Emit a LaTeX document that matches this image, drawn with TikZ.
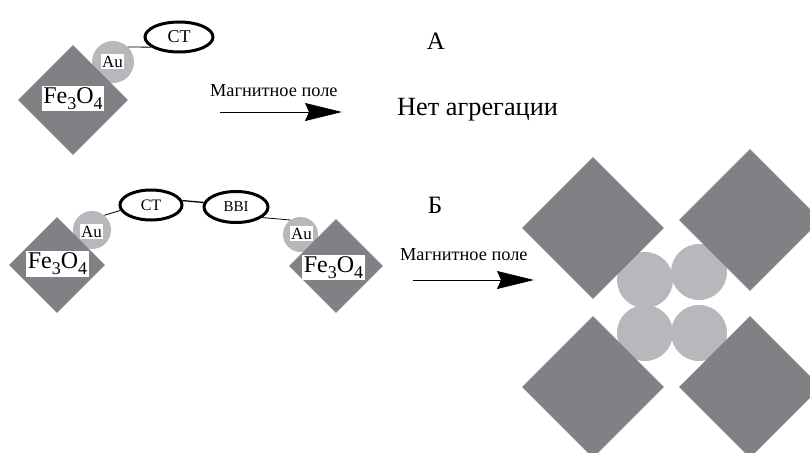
\documentclass[tikz,border=0pt]{standalone}
\usepackage{fontspec}
\setmainfont{Liberation Serif}
\usetikzlibrary{shapes.geometric,arrows.meta}
\definecolor{fecol}{RGB}{128,129,133}
\definecolor{aucol}{RGB}{183,184,188}
\newcommand{\fesub}[1]{\raisebox{-6pt}{\fontsize{18}{18}\selectfont #1}}
\newcommand{\feox}{Fe\fesub{3}O\fesub{4}}
\begin{document}
\begin{tikzpicture}[x=1pt,y=-1pt,
  fediamond/.style={diamond,aspect=1,fill=fecol,draw=none,inner sep=0pt,minimum width=#1,minimum height=#1},
  aucircle/.style={circle,fill=aucol,draw=none,inner sep=0pt,minimum size=#1},
  felabel/.style={fill=white,inner xsep=1.5pt,inner ysep=1.5pt,font=\fontsize{24}{24}\selectfont},
  aulabel/.style={fill=white,inner xsep=1pt,inner ysep=1.5pt,font=\fontsize{17}{17}\selectfont},
  molecule/.style={ellipse,draw=black,line width=3pt,fill=white,inner sep=0pt,minimum height=30pt},
  link/.style={line width=0.8pt},
  field/.style={line width=1pt,-{Stealth[length=37pt,width=18pt,inset=4pt]}},
  fieldtext/.style={anchor=base west,inner sep=0pt,font=\fontsize{18.3}{18.3}\selectfont},
  bigtext/.style={anchor=base,inner sep=0pt,font=\fontsize{25}{25}\selectfont},
]
\useasboundingbox (0,0) rectangle (810,452);
\clip (0,0) rectangle (810,452);
\fill[white] (0,0) rectangle (810,452);

% ---------- A ----------
\node[aucircle=42pt] (au1) at (113,62) {};
\node[fediamond=110pt] (fe1) at (73,100) {};
\node[felabel] (fe1t) at (73,98.5) {\feox};
\node[aulabel] (au1t) at (112.5,61.5) {Au};
\node[molecule,minimum width=68pt,font=\fontsize{18}{18}\selectfont] (ct1) at (179,37) {CT};
\draw[link] (au1.45) -- (ct1.200);

\node[bigtext] (labA) at (436,49) {А};
\node[fieldtext] (mf1) at (210,96) {Магнитное поле};
\coordinate (a1s) at (220,112);
\coordinate (a1e) at (342,112);
\draw[field] (a1s) -- (a1e);
\node[bigtext,anchor=base west,font=\fontsize{26.3}{26.3}\selectfont] (noagg) at (397,115) {Нет агрегации};

% ---------- Б ----------
\node[aucircle=38pt] (au2) at (92,230) {};
\node[fediamond=96pt] (fe2) at (57,265) {};
\node[felabel] (fe2t) at (57.5,264) {\feox};
\node[aulabel] (au2t) at (91.5,231.5) {Au};

\node[molecule,minimum width=62pt,font=\fontsize{16}{16}\selectfont] (ct2) at (151,205) {CT};
\node[molecule,minimum width=64pt,minimum height=31pt,font=\fontsize{15}{15}\selectfont] (bbi) at (236,207) {BBI};

\node[aucircle=35pt] (au3) at (300.5,234.5) {};
\node[fediamond=94pt] (fe3) at (336,266) {};
\node[felabel] (fe3t) at (333.5,267.5) {\feox};
\node[aulabel] (au3t) at (301.5,233.5) {Au};

\draw[link] (au2.50) -- (ct2.190);
\draw[line width=1.3pt] (ct2.8) -- (bbi.172);
\draw[link] (bbi.-22) -- (au3.125);

\node[bigtext] (labB) at (435,213) {Б};
\node[fieldtext] (mf2) at (400,260) {Магнитное поле};
\coordinate (a2s) at (413,280);
\coordinate (a2e) at (534,280);
\draw[field] (a2s) -- (a2e);

% ---------- aggregate ----------
\node[aucircle=56pt] (c1) at (645,280) {};
\node[aucircle=56pt] (c2) at (699,272) {};
\node[aucircle=56pt] (c3) at (645,333) {};
\node[aucircle=56pt] (c4) at (699,333) {};
\node[fediamond=142pt] (d1) at (593,228) {};
\node[fediamond=142pt] (d2) at (750,220) {};
\node[fediamond=142pt] (d3) at (593,387) {};
\node[fediamond=142pt] (d4) at (750,387) {};
\end{tikzpicture}
\end{document}
